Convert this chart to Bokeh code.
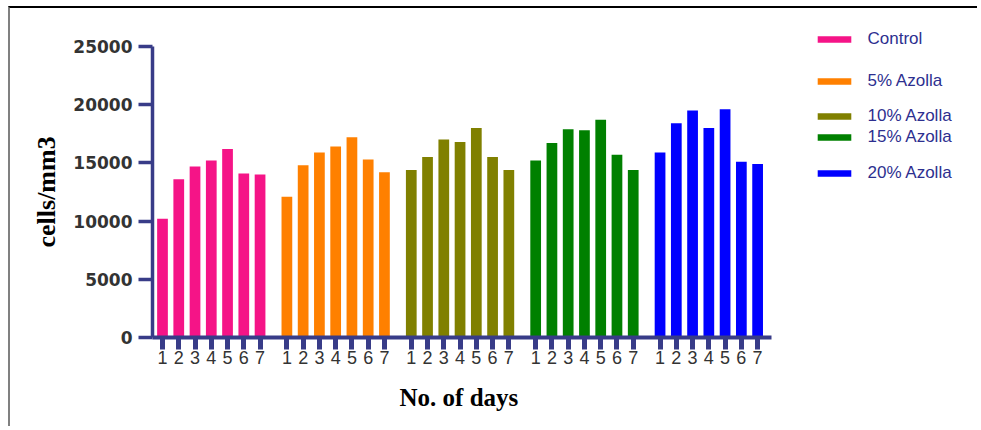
from bokeh.plotting import figure
from bokeh.models import ColumnDataSource, FixedTicker, Range1d, Legend, LegendItem, Title
from bokeh.embed import file_html
from bokeh.resources import INLINE

# ---- data ----
days = ["1", "2", "3", "4", "5", "6", "7"]
groups = ["Control", "5% Azolla", "10% Azolla", "15% Azolla", "20% Azolla"]
control = [10200, 13600, 14700, 15200, 16200, 14100, 14000]
azolla5 = [12100, 14800, 15900, 16400, 17200, 15300, 14200]
azolla10 = [14400, 15500, 17000, 16800, 18000, 15500, 14400]
azolla15 = [15200, 16700, 17900, 17800, 18700, 15700, 14400]
azolla20 = [15900, 18400, 19500, 18000, 19600, 15100, 14900]
series = [control, azolla5, azolla10, azolla15, azolla20]
colors = ["#f51487", "#ff8000", "#808000", "#008000", "#0000ff"]
y_ticks = [0, 5000, 10000, 15000, 20000, 25000]
x_title = "No. of days"
y_title = "cells/mm3"

# ---- layout constants ----
STRIDE = 7.65          # slot units per group (7 bars + gap)
BAR_W = 0.66
AXIS = "#383c88"
TEXT = "#333333"
LEG_TEXT = "#2d2f8f"
X0, X1 = -0.615, 37.43      # extent of the drawn x axis
Y1 = 25000                  # top of the drawn y axis
# frame is larger than the axes so the legend (right of the bars) is not clipped
FRAME_X_END = 50.0
FRAME_Y_END = 27234
legend_centers = [39, 81, 115.7, 137.3, 173.3]   # page px of legend rows
FRAME_BOTTOM = 337
FRAME_LEFT = 152

p = figure(width=969, height=420, output_backend="svg", toolbar_location=None,
           x_range=Range1d(X0, FRAME_X_END), y_range=Range1d(0, FRAME_Y_END),
           min_border_left=142, min_border_right=4, min_border_top=12,
           min_border_bottom=91)
p.styles = {"margin-top": "6px", "margin-left": "8px",
            "border-top": "2px solid #000000",
            "border-left": "2px solid #808080"}
p.outline_line_color = None
p.xgrid.visible = False
p.ygrid.visible = False
p.background_fill_color = "white"
p.border_fill_color = "white"

renderers = []
for gi, (name, vals, col) in enumerate(zip(groups, series, colors)):
    xs = [gi * STRIDE + di for di in range(len(days))]
    src = ColumnDataSource(dict(x=xs, top=vals))
    r = p.vbar(x="x", top="top", width=BAR_W, bottom=0, source=src,
               fill_color=col, line_color=None)
    renderers.append(r)

# x axis: day numbers under every bar
tick_pos = []
overrides = {}
for gi in range(len(groups)):
    for di, d in enumerate(days):
        xv = gi * STRIDE + di
        tick_pos.append(xv)
        overrides[xv] = d
p.xaxis.bounds = (X0, X1)
p.xaxis.ticker = FixedTicker(ticks=tick_pos)
p.xaxis.major_label_overrides = overrides
p.xaxis.minor_tick_line_color = None
p.xaxis.axis_line_color = AXIS
p.xaxis.axis_line_width = 4
p.xaxis.major_tick_line_color = AXIS
p.xaxis.major_tick_line_width = 5
p.xaxis.major_tick_in = 0
p.xaxis.major_tick_out = 12
p.xaxis.major_label_standoff = 1
p.xaxis.major_label_text_font = "Liberation Sans"
p.xaxis.major_label_text_font_size = "18px"
p.xaxis.major_label_text_color = TEXT

p.yaxis.bounds = (0, Y1)
p.yaxis.ticker = FixedTicker(ticks=y_ticks)
p.yaxis.minor_tick_line_color = None
p.yaxis.axis_line_color = AXIS
p.yaxis.axis_line_width = 3.5
p.yaxis.major_tick_line_color = AXIS
p.yaxis.major_tick_line_width = 3.5
p.yaxis.major_tick_in = 0
p.yaxis.major_tick_out = 14
p.yaxis.major_label_standoff = 6
p.yaxis.major_label_text_font = "DejaVu Sans"
p.yaxis.major_label_text_font_style = "bold"
p.yaxis.major_label_text_font_size = "17px"
p.yaxis.major_label_text_color = TEXT

# axis titles, positioned under / beside the drawn axes (not the wider frame)
p.add_layout(Title(text=x_title, align="left", offset=247,
                   text_font="Liberation Serif", text_font_style="bold",
                   text_font_size="25px", text_color="#000000", standoff=31),
             "below")
p.add_layout(Title(text=y_title, align="left", offset=90,
                   text_font="Liberation Serif", text_font_style="bold",
                   text_font_size="26px", text_color="#000000", standoff=19),
             "left")

# legends (one per entry, to keep the reference's uneven spacing)
for name, r, cy in zip(groups, renderers, legend_centers):
    leg = Legend(items=[LegendItem(label=name, renderers=[r])],
                 location=(812.5 - FRAME_LEFT, FRAME_BOTTOM - cy - 10),
                 padding=0, margin=0, spacing=0,
                 glyph_width=42, glyph_height=8, label_height=20,
                 label_standoff=13,
                 label_text_font="Liberation Sans", label_text_font_size="17px",
                 label_text_color=LEG_TEXT,
                 border_line_color=None, background_fill_alpha=0)
    p.add_layout(leg, "center")

open("out.html", "w").write(file_html(p, INLINE))
